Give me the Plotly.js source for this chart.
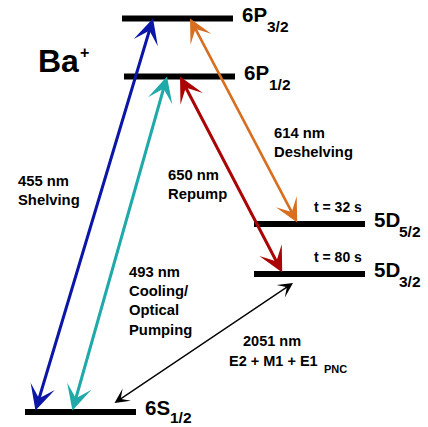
<!DOCTYPE html>
<html><head><meta charset="utf-8">
<script src="https://cdn.plot.ly/plotly-3.0.1.min.js"></script>
<style>html,body{margin:0;padding:0;background:#fff}</style>
</head><body><div id="chart" style="width:428px;height:427px"></div>
<script>
// ---- data ----
const levelNames = ['6S', '5D', '5D', '6P', '6P'];
const levelJ = ['1/2', '3/2', '5/2', '1/2', '3/2'];
const levelEnergy = [15, 153, 203, 350.5, 408.5];   // schematic energy (diagram units)
const levelLifetime = ['', 't = 80 s', 't = 32 s', '', ''];

const transWavelength = ['455 nm', '493 nm', '650 nm', '614 nm', '2051 nm'];
const transName = ['Shelving', 'Cooling/<br>Optical<br>Pumping', 'Repump', 'Deshelving', 'E2 + M1 + E1'];
const transSub = ['', '', '', '', 'PNC'];
const transLower = [0, 0, 1, 2, 0];
const transUpper = [4, 3, 3, 4, 1];
const ionName = 'Ba';
const ionCharge = '+';

// ---- layout / geometry (not data) ----
const levelLeft = [25, 254, 254, 124, 122];
const levelWidth = 111;
const subDrop = [5.5, 7, 7, 7.5, 8];
const arrowLowX = [35, 72, 283, 298, 113];
const arrowUpX = [153, 167, 180, 190, 293];
const arrowGapLow = [0, 0, 0, 0, 8];
const arrowGapUp = [0, 0, 0, 0, 9];
const arrowColor = ['#0B16A6', '#1FA9A9', '#AA0404', '#D86E1F', '#000000'];
const arrowW = [3, 3, 3, 2.6, 1.3];
const arrowSz = [1.4, 1.4, 1.4, 1.5, 1.9];
const labelPos = [[17, 237], [128, 145], [167, 243], [273, 285], [273, 76]]; // [x, y] of label block
const labelAnchor = ['left', 'left', 'left', 'left', 'center'];

const FONT = 'Liberation Sans, Arial, Helvetica, sans-serif';
const traces = [];
levelEnergy.forEach((e, i) => {
  traces.push({
    x: [levelLeft[i], levelLeft[i] + levelWidth], y: [e, e],
    mode: 'lines', line: {color: '#000', width: 6}, hoverinfo: 'skip', showlegend: false
  });
});

const ann = [];
function txt(text, x, y, size, xanchor, yanchor) {
  ann.push({text, x, y, xref: 'x', yref: 'y', showarrow: false, xanchor: xanchor || 'left',
    yanchor: yanchor || 'middle', align: xanchor === 'center' ? 'center' : 'left',
    font: {family: FONT, size, color: '#000', weight: 'bold'}, borderpad: 0});
}
// level labels
levelEnergy.forEach((e, i) => {
  const xr = levelLeft[i] + levelWidth;
  txt(levelNames[i], xr + 8, e + 4.5, 20.5);
  txt(levelJ[i], xr + 33, e - subDrop[i], 15.5);
  if (levelLifetime[i]) txt(levelLifetime[i], xr - 52, e + 17, 14);
});
// transitions
transWavelength.forEach((w, i) => {
  const lo = levelEnergy[transLower[i]] + arrowGapLow[i];
  const up = levelEnergy[transUpper[i]] - arrowGapUp[i];
  ann.push({x: arrowUpX[i], y: up, ax: arrowLowX[i], ay: lo, xref: 'x', yref: 'y', axref: 'x', ayref: 'y',
    text: '', showarrow: true, arrowside: 'end+start', arrowhead: 3, startarrowhead: 3,
    arrowsize: arrowSz[i], startarrowsize: arrowSz[i], arrowwidth: arrowW[i], arrowcolor: arrowColor[i],
    standoff: 0, startstandoff: 0});
  const p = labelPos[i];
  if (labelAnchor[i] === 'center') {
    txt(w, p[0] - 1.5, p[1] + 10, 14.5, 'center');
    txt(transName[i], p[0], p[1] - 9.5, 14.5, 'center');
    txt(transSub[i], p[0] + 50, p[1] - 18, 11);
  } else {
    txt(w + '<br>' + transName[i], p[0], p[1] - (transName[i].split('<br>').length - 1) * 9.7, 14.8);
  }
});
txt(ionName, 37, 366, 32);
txt(ionCharge, 79, 375, 16);

const layout = {
  width: 428, height: 427, margin: {l: 0, r: 0, t: 0, b: 0},
  paper_bgcolor: '#fff', plot_bgcolor: '#fff',
  xaxis: {range: [0, 428], visible: false, fixedrange: true},
  yaxis: {range: [0, 427], visible: false, fixedrange: true},
  showlegend: false, annotations: ann
};
Plotly.newPlot('chart', traces, layout, {staticPlot: true});
</script></body></html>
